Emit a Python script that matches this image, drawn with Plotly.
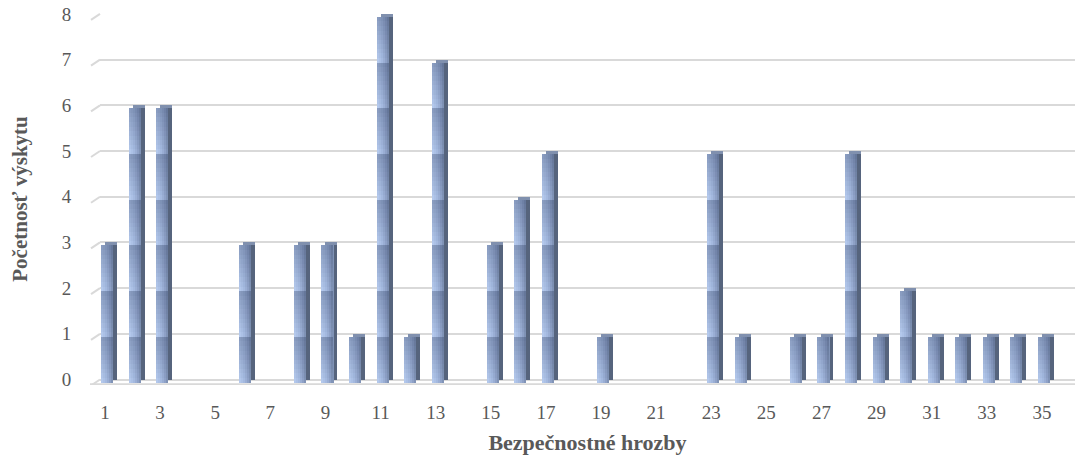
import plotly.graph_objects as go

# Occurrence count of each security threat (threat number 1..35)
threats = list(range(1, 36))
counts = [3, 6, 6, 0, 0, 3, 0, 3, 3, 1, 8, 1, 7, 0, 3, 4, 5, 0, 1, 0,
          0, 0, 5, 1, 0, 1, 1, 5, 1, 2, 1, 1, 1, 1, 1]
x_ticks = list(range(1, 36, 2))
y_ticks = list(range(0, 9))

# --- geometry of the pseudo-3D columns (in axis units) ---
X_RANGE = [0.82, 36.2]
Y_RANGE = [-0.12, 8.02]
PLOT_W = 975
PLOT_H = 372.4
PX_X = PLOT_W / (X_RANGE[1] - X_RANGE[0])
PX_Y = PLOT_H / (Y_RANGE[1] - Y_RANGE[0])
FRONT_W = 12 / PX_X          # front face width
SHIFT = 4 / PX_X             # depth shift of the back face
LEFT = -FRONT_W / 2 + 2 / PX_X
DROP = 3 / PX_Y              # front face sits slightly lower than the back wall

xs = [t for t, c in zip(threats, counts) if c > 0]
vs = [c for c in counts if c > 0]

fig = go.Figure()

# side face (back block shifted to the right)
fig.add_trace(go.Bar(x=xs, y=vs, base=0, width=FRONT_W, offset=LEFT + SHIFT,
                     marker=dict(color="#56647d", line_width=0), yaxis="y",
                     hoverinfo="skip"))
# top face
fig.add_trace(go.Bar(x=xs, y=[DROP] * len(vs), base=[v - DROP for v in vs],
                     width=FRONT_W, offset=LEFT + SHIFT,
                     marker=dict(color="#8090ae", line_width=0), yaxis="y",
                     hoverinfo="skip"))

# front face: left-to-right shading in vertical strips
strip_colors = ["#b3c8ec", "#acc1e6", "#a4b9df", "#9aaed4", "#8ea1c7", "#8093b6"]
ns = len(strip_colors)
sw = FRONT_W / ns
for i, col in enumerate(strip_colors):
    fig.add_trace(go.Bar(x=xs, y=vs, base=0, width=sw + 0.004, offset=LEFT + i * sw,
                         marker=dict(color=col, line_width=0), yaxis="y2",
                         hoverinfo="skip"))

# front face: each unit block darkens towards its top edge
M = 10
unit_x = [t for t, c in zip(threats, counts) for _ in range(c)]
unit_k = [k for c in counts for k in range(c)]
for s in range(M):
    a = 0.30 * s / (M - 1)
    if a == 0:
        continue
    fig.add_trace(go.Bar(x=unit_x, y=[1 / M] * len(unit_x),
                         base=[k + s / M for k in unit_k],
                         width=FRONT_W, offset=LEFT,
                         marker=dict(color=f"rgba(40,55,90,{a:.3f})", line_width=0),
                         yaxis="y2", hoverinfo="skip"))

# perspective stubs at the left end of every gridline, plus the floor edge
shapes = []
for k in y_ticks:
    shapes.append(dict(type="line", xref="paper", yref="y",
                       x0=-9 / PLOT_W, x1=0, y0=k - 6 / PX_Y, y1=k,
                       line=dict(color="#d9d9d9", width=2)))
shapes.append(dict(type="line", xref="paper", yref="y",
                   x0=-10 / PLOT_W, x1=1, y0=-0.105, y1=-0.105,
                   line=dict(color="#d9d9d9", width=2)))

fig.update_layout(
    template="none",
    width=1080, height=462,
    margin=dict(l=100, r=5, t=13, b=77),
    barmode="overlay",
    bargap=0,
    showlegend=False,
    plot_bgcolor="white",
    paper_bgcolor="white",
    font=dict(family="Liberation Serif, Times New Roman, serif",
              color="#595959", size=19),
    shapes=shapes,
    xaxis=dict(range=X_RANGE, tickvals=x_ticks, showgrid=False, zeroline=False,
               showline=False, ticks="outside", ticklen=0, ticklabelstandoff=10,
               tickfont=dict(size=19),
               title=dict(text="<b>Bezpečnostné hrozby</b>", standoff=12,
                          font=dict(size=22))),
    yaxis=dict(range=Y_RANGE, tickvals=y_ticks, showgrid=True,
               gridcolor="#d9d9d9", gridwidth=2, zeroline=False, showline=False,
               ticks="outside", ticklen=0, ticklabelstandoff=24,
               tickfont=dict(size=19),
               title=dict(text="<b>Početnosť výskytu</b>", standoff=28,
                          font=dict(size=21))),
    yaxis2=dict(overlaying="y", range=[Y_RANGE[0] + DROP, Y_RANGE[1] + DROP],
                visible=False),
)

fig.write_html("out.html")
